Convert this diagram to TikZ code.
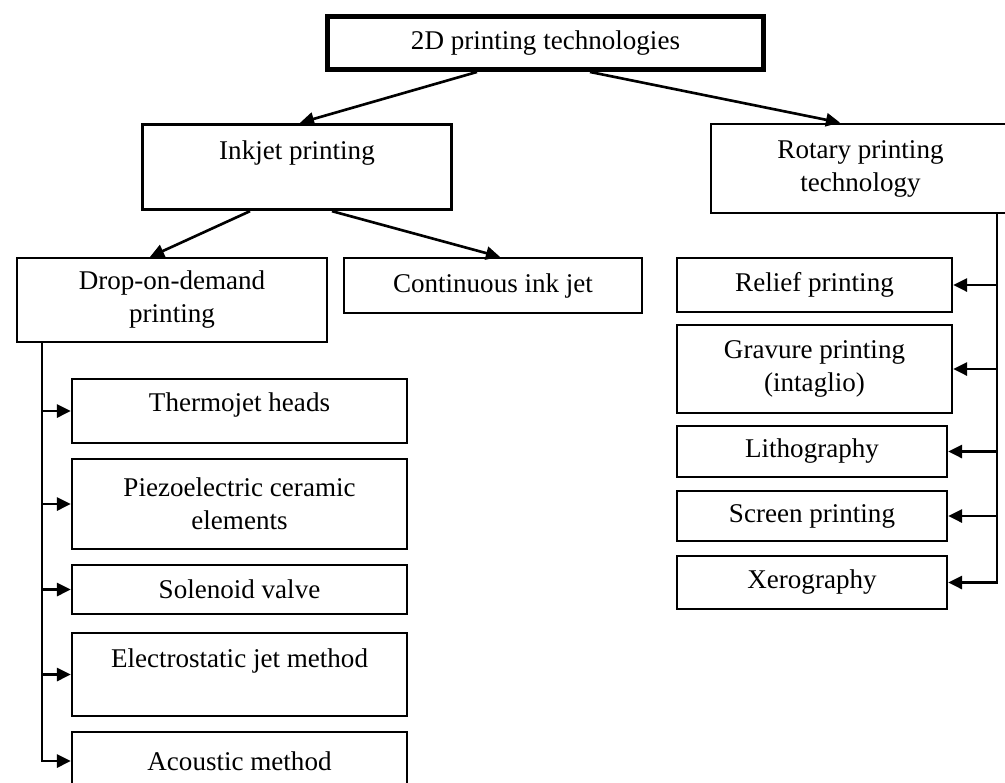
\documentclass[tikz,border=0pt]{standalone}
\usepackage{fontspec}
\setmainfont{Liberation Serif}
\usetikzlibrary{arrows.meta,calc,scopes}

\begin{document}
\begin{tikzpicture}[x=0.02cm,y=-0.02cm,
   box/.style={draw,line width=1.3pt,align=center,inner sep=0pt,
               font=\fontsize{15.4}{18.8}\selectfont},
   sz/.style 2 args={minimum width=#1*0.02cm,minimum height=#2*0.02cm},
   link/.style={draw,line width=1.5pt,->},
   >={Triangle[length=8pt,width=7.5pt]}]

\useasboundingbox (0,0) rectangle (1005,782);

\path node[box,sz={436}{53},line width=2.8pt] (root) at (545.5,43)  {2D printing technologies}
      node[box,sz={309}{85},line width=1.9pt] (ink)  at (297,167)   {Inkjet printing\\ \mbox{}}
      node[box,sz={299}{89},line width=1.6pt] (rot)  at (860.5,168.5) {Rotary printing\\technology}
      node[box,sz={310}{84}] (dod) at (172,300)   {Drop-on-demand\\printing}
      node[box,sz={298}{55}] (cij) at (493,285.5) {Continuous ink jet}
      % drop-on-demand branch
      node[box,sz={335}{64}] (th)  at (239.5,411)   {Thermojet heads\\[-9pt]\mbox{}}
      node[box,sz={335}{90}] (pz)  at (239.5,504)   {Piezoelectric ceramic\\elements}
      node[box,sz={335}{49}] (sv)  at (239.5,589.5) {Solenoid valve}
      node[box,sz={335}{83}] (es)  at (239.5,674.5) {Electrostatic jet method\\ \mbox{}}
      node[box,sz={335}{58}] (ac)  at (239.5,761)   {Acoustic method}
      % rotary branch
      node[box,sz={275}{54}] (re)  at (814.5,285)   {Relief printing}
      node[box,sz={275}{88}] (gr)  at (814.5,369)   {Gravure printing\\(intaglio)}
      node[box,sz={270}{51}] (li)  at (812,451.5)   {Lithography}
      node[box,sz={270}{50}] (sc)  at (812,516)     {Screen printing}
      node[box,sz={270}{53}] (xe)  at (812,582.5)   {Xerography};

\coordinate (lt) at (42,342);
\coordinate (rt) at (997,213);

 {[link]
   \draw ($(root.south)+(-68.5,0)$) -- ($(ink.north)+(3,0)$);
   \draw ($(root.south)+(44.5,0)$)  -- ($(rot.north)+(-20.5,0)$);
   \draw ($(ink.south)+(-47,0)$)    -- ($(dod.north)+(-22,0)$);
   \draw ($(ink.south)+(35,0)$)     -- ($(cij.north)+(7,0)$);

   \draw   (lt |- th.west) -- (th.west);
   \draw   (lt |- pz.west) -- (pz.west);
   \draw   (lt |- sv.west) -- (sv.west);
   \draw   (lt |- es.west) -- (es.west);
   \draw   (lt) |- (ac.west);

   \draw   (rt |- re.east) -- (re.east);
   \draw   (rt |- gr.east) -- (gr.east);
   \draw   (rt |- li.east) -- (li.east);
   \draw   (rt |- sc.east) -- (sc.east);
   \draw   (rt) |- (xe.east);
 }
\end{tikzpicture}
\end{document}
